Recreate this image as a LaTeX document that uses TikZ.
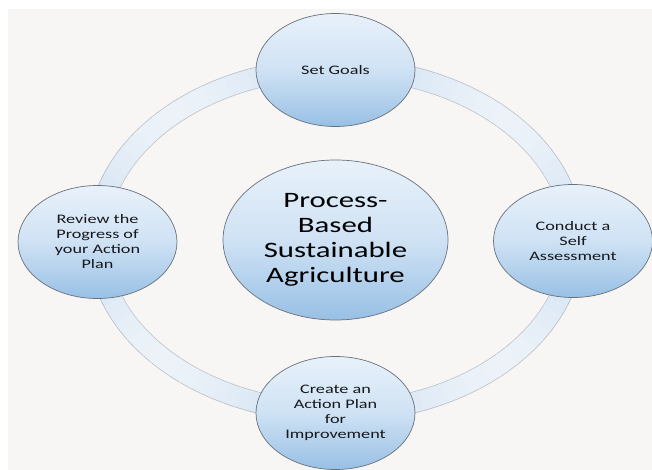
\documentclass[tikz,border=0pt]{standalone}
\usepackage{fontspec}
\setmainfont{Carlito}[FakeStretch=1.4]
\usetikzlibrary{shapes.geometric}

\definecolor{bgpanel}{RGB}{247,246,244}
\definecolor{textdark}{RGB}{22,24,28}
\definecolor{nodetop}{RGB}{232,241,250}
\definecolor{nodemid}{RGB}{207,226,244}
\definecolor{nodebot}{RGB}{152,192,229}
\definecolor{nodeedge}{RGB}{105,112,122}
\definecolor{ringdark}{RGB}{194,218,240}
\definecolor{ringlight}{RGB}{236,242,248}
\definecolor{ringedge}{RGB}{186,190,196}

\pgfdeclarelayer{panel}
\pgfdeclarelayer{ring}
\pgfsetlayers{panel,ring,main}

\tikzset{
  stage/.style={ellipse, minimum width=159pt, minimum height=113pt, inner sep=0pt,
    top color=nodetop, bottom color=nodebot, middle color=nodemid,
    draw=nodeedge, line width=0.7pt, align=center, text=textdark,
    font=\fontsize{13}{15}\selectfont},
  hub/.style={stage, minimum width=225pt, minimum height=160pt,
    text=black, font=\fontsize{22}{25}\selectfont}
}

\begin{document}
\begin{tikzpicture}[x=1pt,y=-1pt]
\useasboundingbox (0,0) rectangle (652,470);

% panel behind the cycle
\begin{pgfonlayer}{panel}
  \fill[white] (0,0) rectangle (652,470);
  \fill[bgpanel] (8,9) rectangle (652,470);
\end{pgfonlayer}

% central topic and the four stages of the cycle
\node[hub]   (hub)    at (335.5,240) {Process-\\Based\\Sustainable\\Agriculture};
\node[stage] (goals)  at (335.5,70)  {Set Goals};
\node[stage] (assess) at (573,241)   {Conduct a\\Self\\Assessment};
\node[stage] (plan)   at (335.5,413) {Create an\\Action Plan\\for\\Improvement};
\node[stage] (review) at (97.5,242)  {Review the\\Progress of\\your Action\\Plan};

% ring joining the stages, paler half-way between them
\begin{pgfonlayer}{ring}
  \draw[ringedge, line width=21.5pt] (hub.center) ellipse [x radius=238, y radius=172];
  \foreach \a in {0,3,...,357}{
    \pgfmathsetmacro\f{100*(1-abs(sin(2*\a)))}
    \draw[ringdark!\f!ringlight, line width=20pt]
      ([shift={(\a:238 and 172)}]hub.center)
      arc[start angle=\a, end angle=\a+3.5, x radius=238, y radius=172];
  }
\end{pgfonlayer}
\end{tikzpicture}
\end{document}
